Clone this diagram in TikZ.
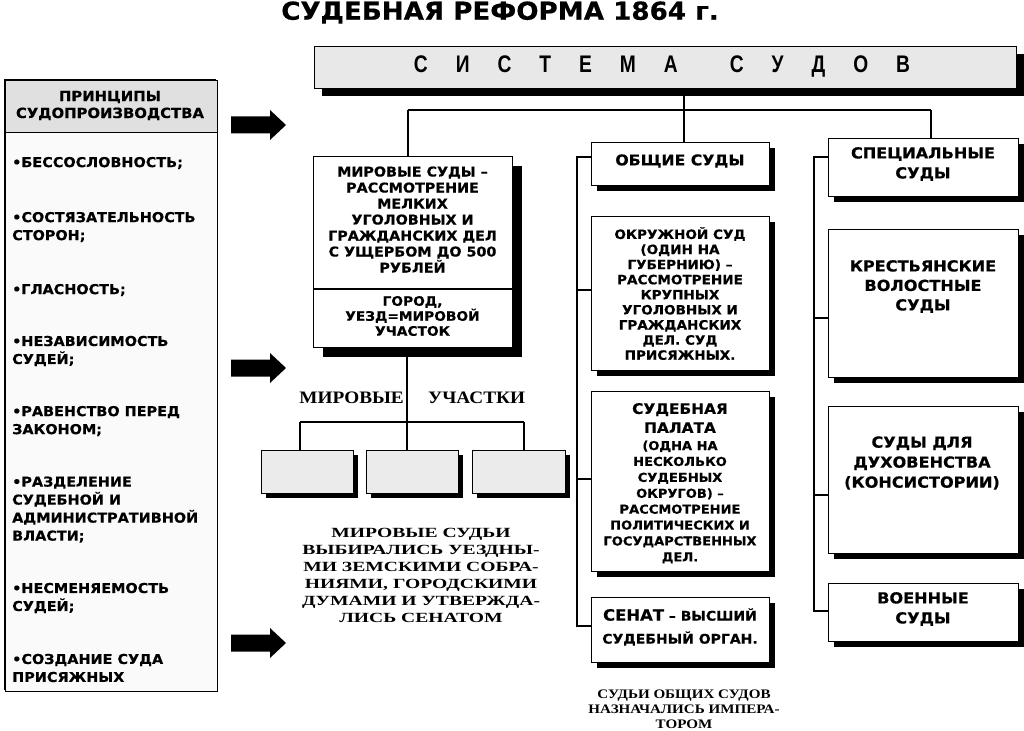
\documentclass[tikz,border=0pt]{standalone}
\usepackage{fontspec}
\setmainfont{DejaVu Sans}[FakeStretch=1.06, BoldFeatures={FakeBold=0.5}]
\newfontfamily\srfA[FakeStretch=1.4]{Liberation Serif}
\newfontfamily\srfB[FakeStretch=1.1]{Liberation Serif}
\newfontfamily\srfC[FakeStretch=1.16]{Liberation Serif}
\newfontfamily\condf[FakeStretch=0.8]{Liberation Sans}
\usetikzlibrary{shadows}
\newcommand\fs[2]{\fontsize{#1}{#2}\selectfont}
\newcommand\lsp{\hspace{28pt}}
\begin{document}
\begin{tikzpicture}[x=1pt,y=-1pt,
  box/.style={draw, line width=1.1pt, fill=white, inner sep=0pt, anchor=north west},
  shad/.style={drop shadow={shadow xshift=#1, shadow yshift=-#1, fill=black, opacity=1}},
  shad/.default=5pt,
  conn/.style={line width=2.6pt},
  txt/.style={font=\bfseries, align=center, inner sep=0pt},
  ltxt/.style={font=\bfseries\fs{13.6}{18}, align=left, inner sep=0pt, anchor=west},
  blockarrow/.style={fill=black}
]
\useasboundingbox (0,0) rectangle (1024,730);

% title
\node[txt, font=\bfseries\fs{24.7}{30}] (title) at (500,12.5) {СУДЕБНАЯ РЕФОРМА 1864 г.};

% system box
\node[box, shad=7pt, fill=black!9, minimum width=702pt, minimum height=42pt] (sys) at (314,46) {};
\node[inner sep=0pt, font=\condf\bfseries\fs{24}{24}] (systxt) at (662,67)
  {С\lsp И\lsp С\lsp Т\lsp Е\lsp М\lsp А\hspace{52pt}С\lsp У\lsp Д\lsp О\lsp В};

% left principles box
\node[box, shad=-2pt, fill=black!2, minimum width=212pt, minimum height=611pt] (lb) at (5,80) {};
\node[box, fill=black!12, minimum width=212pt, minimum height=52pt] (lbh) at (5,80) {};
\node[txt, font=\bfseries\fs{14}{17}] (lbht) at (110,105.5) {ПРИНЦИПЫ\\СУДОПРОИЗВОДСТВА};
\node[ltxt] (i1) at (12,163) {•БЕССОСЛОВНОСТЬ;};
\node[ltxt] (i2) at (12,227) {•СОСТЯЗАТЕЛЬНОСТЬ\\СТОРОН;};
\node[ltxt] (i3) at (12,290) {•ГЛАСНОСТЬ;};
\node[ltxt] (i4) at (12,351) {•НЕЗАВИСИМОСТЬ\\СУДЕЙ;};
\node[ltxt] (i5) at (12,421) {•РАВЕНСТВО ПЕРЕД\\ЗАКОНОМ;};
\node[ltxt] (i6) at (12,509.5) {•РАЗДЕЛЕНИЕ\\СУДЕБНОЙ И\\АДМИНИСТРАТИВНОЙ\\ВЛАСТИ;};
\node[ltxt] (i7) at (12,598) {•НЕСМЕНЯЕМОСТЬ\\СУДЕЙ;};
\node[ltxt] (i8) at (12,668) {•СОЗДАНИЕ СУДА\\ПРИСЯЖНЫХ};

% block arrows
\foreach \ay in {125,368,643} {
  \fill[blockarrow] (231,{\ay-8.5}) -- (270,{\ay-8.5}) -- (270,{\ay-15}) -- (286,\ay)
     -- (270,{\ay+15}) -- (270,{\ay+8.5}) -- (231,{\ay+8.5}) -- cycle;
}

% mirovye sudy
\node[box, shad=9pt, minimum width=199pt, minimum height=191pt] (mir) at (313,156) {};
\draw[line width=1.1pt] (313,289) -- (512,289);
\node[txt, font=\bfseries\fs{13.5}{16}] (mirt) at (412.5,219.5)
  {МИРОВЫЕ СУДЫ –\\РАССМОТРЕНИЕ\\МЕЛКИХ\\УГОЛОВНЫХ И\\ГРАЖДАНСКИХ ДЕЛ\\С УЩЕРБОМ ДО 500\\РУБЛЕЙ};
\node[txt, font=\bfseries\fs{13}{15}] (mirb) at (412.5,316)
  {ГОРОД,\\УЕЗД=МИРОВОЙ\\УЧАСТОК};

\node[inner sep=0pt, anchor=east, font=\srfB\bfseries\fs{17.5}{20}] (mu1) at (404,398) {МИРОВЫЕ};
\node[inner sep=0pt, anchor=west, font=\srfB\bfseries\fs{17.5}{20}] (mu2) at (428,398) {УЧАСТКИ};

\node[box, shad=4pt, fill=black!8, minimum width=92pt, minimum height=43pt] (p1) at (261,450) {};
\node[box, shad=4pt, fill=black!8, minimum width=92pt, minimum height=43pt] (p2) at (366,450) {};
\node[box, shad=4pt, fill=black!8, minimum width=93pt, minimum height=43pt] (p3) at (472,450) {};

\node[txt, font=\srfA\bfseries\fs{14}{17}] (ms) at (421,575)
  {МИРОВЫЕ СУДЬИ\\ВЫБИРАЛИСЬ УЕЗДНЫ-\\МИ ЗЕМСКИМИ СОБРА-\\НИЯМИ, ГОРОДСКИМИ\\ДУМАМИ И УТВЕРЖДА-\\ЛИСЬ СЕНАТОМ};

% general courts
\node[box, shad=5pt, minimum width=178pt, minimum height=43pt] (gen) at (591,142) {};
\node[txt, font=\bfseries\fs{14.8}{17}] (gent) at (680,161) {ОБЩИЕ СУДЫ};
\node[box, shad=5pt, minimum width=178pt, minimum height=154pt] (okr) at (591,216) {};
\node[txt, font=\bfseries\fs{12.8}{15.1}] (okrt) at (680,293.5)
  {ОКРУЖНОЙ СУД\\(ОДИН НА\\ГУБЕРНИЮ) –\\РАССМОТРЕНИЕ\\КРУПНЫХ\\УГОЛОВНЫХ И\\ГРАЖДАНСКИХ\\ДЕЛ. СУД\\ПРИСЯЖНЫХ.};
\node[box, shad=5pt, minimum width=178pt, minimum height=180pt] (pal) at (591,391) {};
\node[txt, font=\bfseries\fs{14.5}{19}] (palA) at (680,418) {СУДЕБНАЯ\\ПАЛАТА};
\node[txt, font=\bfseries\fs{12.3}{15.9}] (palB) at (680,502)
  {(ОДНА НА\\НЕСКОЛЬКО\\СУДЕБНЫХ\\ОКРУГОВ) –\\РАССМОТРЕНИЕ\\ПОЛИТИЧЕСКИХ И\\ГОСУДАРСТВЕННЫХ\\ДЕЛ.};
\node[box, shad=5pt, minimum width=178pt, minimum height=65pt] (sen) at (591,597) {};
\node[txt, font=\bfseries\fs{13.2}{23}] (sent) at (680,627)
  {{\fs{15.5}{23}СЕНАТ} – ВЫСШИЙ\\СУДЕБНЫЙ ОРГАН.};
\node[txt, font=\srfC\bfseries\fs{13}{15}] (os) at (684,709)
  {СУДЬИ ОБЩИХ СУДОВ\\НАЗНАЧАЛИСЬ ИМПЕРА-\\ТОРОМ};

% special courts
\node[box, shad=5pt, minimum width=190pt, minimum height=58pt] (spec) at (828,138) {};
\node[txt, font=\bfseries\fs{15.2}{20}] (spect) at (923,164) {СПЕЦИАЛЬНЫЕ\\СУДЫ};
\node[box, shad=5pt, minimum width=190pt, minimum height=148pt] (kr) at (828,229) {};
\node[txt, font=\bfseries\fs{15.2}{19.5}] (krt) at (923,286.5) {КРЕСТЬЯНСКИЕ\\ВОЛОСТНЫЕ\\СУДЫ};
\node[box, shad=5pt, minimum width=190pt, minimum height=147pt] (duh) at (828,406) {};
\node[txt, font=\bfseries\fs{15.2}{20}] (duht) at (922,463) {СУДЫ ДЛЯ\\ДУХОВЕНСТВА\\(КОНСИСТОРИИ)};
\node[box, shad=5pt, minimum width=190pt, minimum height=58pt] (voe) at (828,583) {};
\node[txt, font=\bfseries\fs{15.2}{20}] (voet) at (923,609) {ВОЕННЫЕ\\СУДЫ};

% connectors
\coordinate (b1) at (408,110);
\coordinate (b2) at (684,110);
\coordinate (b3) at (931,110);
\draw[conn] (sys.south -| b2) -- (b2);
\draw[conn] (b1) -- (b3);
\draw[conn] (b1) -- (b1 |- mir.north);
\draw[conn] (b2) -- (b2 |- gen.north);
\draw[conn] (b3) -- (b3 |- spec.north);

\coordinate (m0) at (407,422);
\coordinate (m1) at (300,422);
\coordinate (m3) at (524,422);
\draw[conn] (m0 |- mir.south) -- (m0);
\draw[conn] (m1) -- (m3);
\draw[conn] (m1) -- (m1 |- p1.north);
\draw[conn] (m0) -- (m0 |- p2.north);
\draw[conn] (m3) -- (m3 |- p3.north);

\coordinate (g0) at (577,157);
\coordinate (g1) at (577,290);
\coordinate (g2) at (577,479);
\coordinate (g3) at (577,626);
\draw[conn] (g0 -| gen.west) -- (g0) -- (g3) -- (g3 -| sen.west);
\draw[conn] (g1) -- (g1 -| okr.west);
\draw[conn] (g2) -- (g2 -| pal.west);

\coordinate (s0) at (814,157);
\coordinate (s1) at (814,318);
\coordinate (s2) at (814,495);
\coordinate (s3) at (814,611);
\draw[conn] (s0 -| spec.west) -- (s0) -- (s3) -- (s3 -| voe.west);
\draw[conn] (s1) -- (s1 -| kr.west);
\draw[conn] (s2) -- (s2 -| duh.west);
\end{tikzpicture}
\end{document}
